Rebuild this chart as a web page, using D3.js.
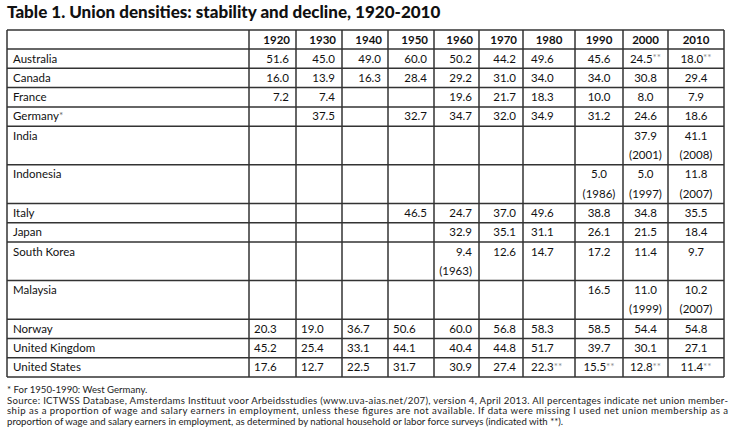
<!DOCTYPE html>
<html>
<head>
<meta charset="utf-8">
<script src="https://cdn.jsdelivr.net/npm/d3@7"></script>
<style>
  body { margin: 0; background: #fff; }
  svg { display: block; font-family: Lato, "Open Sans", sans-serif; }
</style>
</head>
<body>
<svg id="chart"></svg>
<script>
const title = 'Table 1. Union densities: stability and decline, 1920-2010';
const years = ['1920', '1930', '1940', '1950', '1960', '1970', '1980', '1990', '2000', '2010'];
const countries = ['Australia', 'Canada', 'France', 'Germany', 'India', 'Indonesia', 'Italy',
    'Japan', 'South Korea', 'Malaysia', 'Norway', 'United Kingdom', 'United States'];

const australia = [51.6, 45.0, 49.0, 60.0, 50.2, 44.2, 49.6, 45.6, 24.5, 18.0];
const canada = [16.0, 13.9, 16.3, 28.4, 29.2, 31.0, 34.0, 34.0, 30.8, 29.4];
const france = [7.2, 7.4, null, null, 19.6, 21.7, 18.3, 10.0, 8.0, 7.9];
const germany = [null, 37.5, null, 32.7, 34.7, 32.0, 34.9, 31.2, 24.6, 18.6];
const india = [null, null, null, null, null, null, null, null, 37.9, 41.1];
const indonesia = [null, null, null, null, null, null, null, 5.0, 5.0, 11.8];
const italy = [null, null, null, 46.5, 24.7, 37.0, 49.6, 38.8, 34.8, 35.5];
const japan = [null, null, null, null, 32.9, 35.1, 31.1, 26.1, 21.5, 18.4];
const southKorea = [null, null, null, null, 9.4, 12.6, 14.7, 17.2, 11.4, 9.7];
const malaysia = [null, null, null, null, null, null, null, 16.5, 11.0, 10.2];
const norway = [20.3, 19.0, 36.7, 50.6, 60.0, 56.8, 58.3, 58.5, 54.4, 54.8];
const unitedKingdom = [45.2, 25.4, 33.1, 44.1, 40.4, 44.8, 51.7, 39.7, 30.1, 27.1];
const unitedStates = [17.6, 12.7, 22.5, 31.7, 30.9, 27.4, 22.3, 15.5, 12.8, 11.4];

const densities = [australia, canada, france, germany, india, indonesia, italy,
    japan, southKorea, malaysia, norway, unitedKingdom, unitedStates];

// cells whose figure belongs to another year: [country, column, actual year]
const yearNotes = [
    ['India', '2000', '2001'], ['India', '2010', '2008'],
    ['Indonesia', '1990', '1986'], ['Indonesia', '2000', '1997'], ['Indonesia', '2010', '2007'],
    ['South Korea', '1960', '1963'],
    ['Malaysia', '2000', '1999'], ['Malaysia', '2010', '2007']
];
// cells taken from household / labour force surveys (**)
const surveyCells = [
    ['Australia', '2000'], ['Australia', '2010'],
    ['United States', '1980'], ['United States', '1990'], ['United States', '2000'], ['United States', '2010']
];
const starred = ['Germany'];

const footnotes = [
    '* For 1950-1990: West Germany.',
    'Source: ICTWSS Database, Amsterdams Instituut voor Arbeidsstudies (www.uva-aias.net/207), version 4, April 2013. All percentages indicate net union member-',
    'ship as a proportion of wage and salary earners in employment, unless these figures are not available. If data were missing I used net union membership as a',
    'proportion of wage and salary earners in employment, as determined by national household or labor force surveys (indicated with **).'
];

// ---- layout ----
const width = 733, height = 446;
const tableLeft = 7, tableTop = 30, headerH = 19, unitH = 19.3;
const colWidths = [242, 47, 46, 46, 46, 45, 44, 52, 48, 45, 56];
const rightAligned = ['1920', '1930', '1940', '1950', '1960', '1970'];
const leftAligned = ['1980'];
const leftRows = ['Norway', 'United Kingdom', 'United States'];
const leftRowCols = ['1920', '1930', '1940', '1950'];
const fontSize = 11.5;
const lineColor = '#333';

const svg = d3.select('#chart')
    .attr('width', width)
    .attr('height', height);

// column edges
const edges = [tableLeft, ...d3.cumsum(colWidths).map(d => d + tableLeft)];
const colLeft = d3.scaleOrdinal().domain(['label', ...years]).range(edges.slice(0, -1));
const colW = d3.scaleOrdinal().domain(['label', ...years]).range(colWidths);

// row units: double-height where a cell carries a year note
const noteKey = (c, y) => c + '|' + y;
const noteMap = new Map(yearNotes.map(d => [noteKey(d[0], d[1]), d[2]]));
const surveySet = new Set(surveyCells.map(d => noteKey(d[0], d[1])));
const rowUnits = countries.map(c => yearNotes.some(n => n[0] === c) ? 2 : 1);
const unitEdges = [0, ...d3.cumsum(rowUnits)];
const totalUnits = d3.sum(rowUnits);
const yUnit = d3.scaleLinear()
    .domain([0, totalUnits])
    .range([tableTop + headerH, tableTop + headerH + totalUnits * unitH]);
const tableBottom = yUnit(totalUnits);

// title
svg.append('text')
    .attr('x', tableLeft)
    .attr('y', 18)
    .style('font-size', '17px')
    .style('font-weight', 900)
    .attr('fill', '#111')
    .text(title);

const grid = svg.append('g');

// horizontal rules
const hLines = [tableTop, ...unitEdges.map(u => yUnit(u))];
grid.selectAll('line.h')
    .data(hLines)
    .join('line')
    .attr('class', 'h')
    .attr('x1', tableLeft).attr('x2', edges[edges.length - 1])
    .attr('y1', d => d).attr('y2', d => d)
    .attr('stroke', lineColor)
    .attr('stroke-width', 1.5);

// vertical rules
grid.selectAll('line.v')
    .data(edges)
    .join('line')
    .attr('class', 'v')
    .attr('x1', d => d).attr('x2', d => d)
    .attr('y1', tableTop).attr('y2', tableBottom)
    .attr('stroke', lineColor)
    .attr('stroke-width', 1.5);

// header
svg.append('g').selectAll('text')
    .data(years)
    .join('text')
    .attr('x', d => rightAligned.includes(d) ? colLeft(d) + colW(d) - 6 : colLeft(d) + colW(d) / 2)
    .attr('y', tableTop + 14)
    .attr('text-anchor', d => rightAligned.includes(d) ? 'end' : 'middle')
    .style('font-size', fontSize + 'px')
    .style('font-weight', 700)
    .attr('fill', '#111')
    .text(d => d);

// body rows
const rows = svg.append('g').selectAll('g')
    .data(countries.map((c, i) => ({ country: c, values: densities[i], y0: yUnit(unitEdges[i]) })))
    .join('g')
    .attr('transform', d => `translate(0,${d.y0})`);

const labels = rows.append('text')
    .attr('x', tableLeft + 6)
    .attr('y', 13.5)
    .style('font-size', fontSize + 'px')
    .attr('fill', '#111')
    .text(d => d.country);
labels.filter(d => starred.includes(d.country))
    .append('tspan')
    .attr('fill', '#666')
    .attr('dy', -1)
    .style('font-size', '10px')
    .text('*');

function anchorOf(country, year) {
    if (leftRows.includes(country) && leftRowCols.includes(year)) return 'start';
    if (leftAligned.includes(year)) return 'start';
    if (rightAligned.includes(year)) return 'end';
    return 'middle';
}
function xOf(country, year) {
    const a = anchorOf(country, year);
    if (a === 'start') return colLeft(year) + (leftAligned.includes(year) ? 8 : 5);
    if (a === 'end') return colLeft(year) + colW(year) - 7;
    return colLeft(year) + colW(year) / 2;
}

const fmt = d3.format('.1f');
const cells = rows.selectAll('g.cell')
    .data(d => years.map((y, j) => ({ country: d.country, year: y, value: d.values[j] }))
        .filter(c => c.value !== null))
    .join('g')
    .attr('class', 'cell');

const valueText = cells.append('text')
    .attr('x', d => xOf(d.country, d.year))
    .attr('y', 13.5)
    .attr('text-anchor', d => anchorOf(d.country, d.year))
    .style('font-size', fontSize + 'px')
    .attr('fill', '#111')
    .text(d => fmt(d.value));
valueText.filter(d => surveySet.has(noteKey(d.country, d.year)))
    .append('tspan')
    .attr('dy', -1.5)
    .attr('fill', '#8a8a8a')
    .style('font-size', '10px')
    .text('**');

cells.filter(d => noteMap.has(noteKey(d.country, d.year)))
    .append('text')
    .attr('x', d => xOf(d.country, d.year))
    .attr('y', 13.5 + unitH)
    .attr('text-anchor', d => anchorOf(d.country, d.year))
    .style('font-size', fontSize + 'px')
    .attr('fill', '#111')
    .text(d => '(' + noteMap.get(noteKey(d.country, d.year)) + ')');

// footnotes
const footY = d3.scaleLinear().domain([0, 1]).range([393, 403.5]);
svg.append('g').selectAll('text')
    .data(footnotes)
    .join('text')
    .attr('x', tableLeft)
    .attr('y', (d, i) => footY(i))
    .style('font-size', '9.6px')
    .attr('fill', '#222')
    .each(function (d, i) {
        if (i === 1 || i === 2) {
            d3.select(this).attr('textLength', 728 - tableLeft).attr('lengthAdjust', 'spacing');
        }
    })
    .text(d => d);
</script>
</body>
</html>
